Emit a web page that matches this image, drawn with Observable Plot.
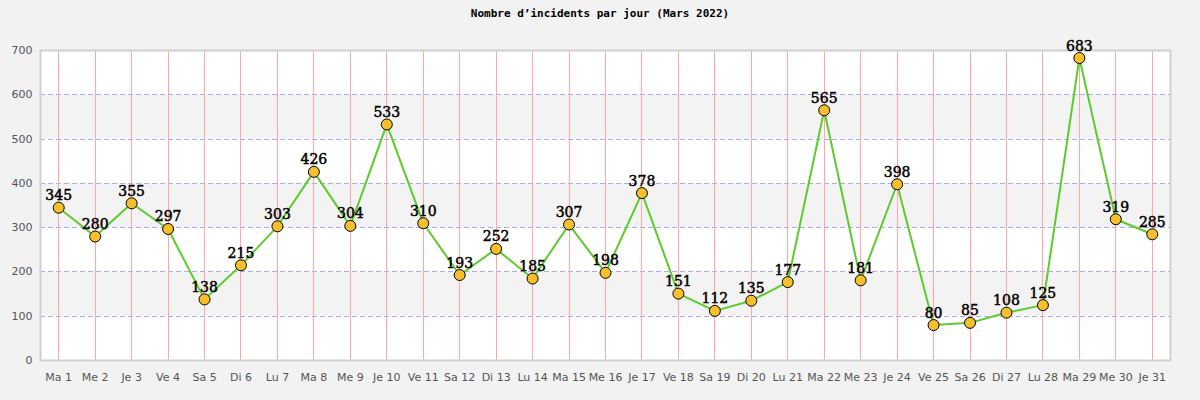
<!DOCTYPE html>
<html><head><meta charset="utf-8">
<script src="https://cdn.jsdelivr.net/npm/d3@7"></script>
<script src="https://cdn.jsdelivr.net/npm/@observablehq/plot@0.6"></script>
<style>
body{margin:0;background:#f2f2f2;width:1200px;height:400px;overflow:hidden;position:relative}
#title{position:absolute;left:0;top:7px;width:1200px;height:14px;line-height:14px;text-align:center;font:bold 11px "DejaVu Sans Mono",monospace;color:#000;margin:0}
#chart{position:absolute;left:0;top:26px}
#chart svg{display:block}
</style></head>
<body>
<div id="title">Nombre d’incidents par jour (Mars 2022)</div>
<div id="chart"></div>
<script>
const days = ["Ma 1","Me 2","Je 3","Ve 4","Sa 5","Di 6","Lu 7","Ma 8","Me 9","Je 10","Ve 11","Sa 12","Di 13","Lu 14","Ma 15","Me 16","Je 17","Ve 18","Sa 19","Di 20","Lu 21","Ma 22","Me 23","Je 24","Ve 25","Sa 26","Di 27","Lu 28","Ma 29","Me 30","Je 31"];
const incidents = [345,280,355,297,138,215,303,426,304,533,310,193,252,185,307,198,378,151,112,135,177,565,181,398,80,85,108,125,683,319,285];
const yTicks = [0,100,200,300,400,500,600,700];

const data = days.map((d,i)=>({day:d, n:incidents[i]}));
const bands = yTicks.filter((t,i)=>i%2===1 && t<700);
const grid = yTicks.filter(t=>t>0 && t<700);

const chart = Plot.plot({
  width:1200, height:374,
  marginTop:24, marginBottom:40, marginLeft:40, marginRight:30,
  style:{background:"transparent", fontFamily:"'DejaVu Sans',sans-serif", fontSize:"11px", color:"#555"},
  x:{type:"point", domain:days, padding:0.5, round:false, label:null, tickSize:0, tickPadding:13},
  y:{domain:[0,700], ticks:yTicks, label:null, tickSize:0, tickPadding:8},
  marks:[
    Plot.frame({fill:"white"}),
    Plot.rect(bands, {y1:d=>d, y2:d=>d+100, fill:"#f3f3f3"}),
    Plot.ruleY(grid, {stroke:"#aaaaf5", strokeDasharray:"5,3", strokeWidth:1, shapeRendering:"crispEdges"}),
    Plot.ruleX(days, {x:d=>d, stroke:"#ffa8a8", strokeWidth:1, shapeRendering:"crispEdges"}),
    Plot.frame({stroke:"#d0d0d0", strokeWidth:2}),
    Plot.line(data, {x:"day", y:"n", stroke:"#5ccc2c", strokeWidth:2}),
    Plot.dot(data, {x:"day", y:"n", r:5.5, fill:"#f6c02c", stroke:"#000", strokeWidth:1}),
    Plot.text(data, {x:"day", y:"n", text:d=>String(d.n), dy:-12, fill:"#000", stroke:"#000", strokeWidth:0.5, fontSize:14, fontFamily:"'DejaVu Serif',serif"})
  ]
});
document.getElementById("chart").append(chart);
</script>
</body></html>
